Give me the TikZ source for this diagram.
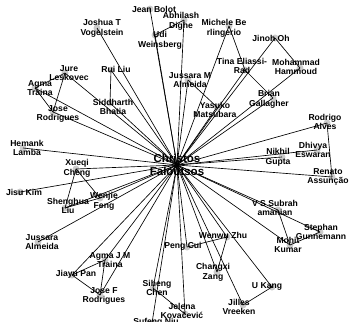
\documentclass[tikz,border=0pt]{standalone}
\usepackage{fontspec}
\setmainfont{Liberation Sans}
\begin{document}
\begin{tikzpicture}[x=1pt,y=-1pt,
  dotst/.style={circle,fill=black!20,inner sep=0pt,minimum size=7pt},
  lbl/.style={font=\fontsize{8.6}{9.6}\selectfont\bfseries,align=center,inner sep=0pt},
  biglbl/.style={font=\fontsize{11.5}{13.5}\selectfont\bfseries,align=center,inner sep=0pt},
  edgest/.style={line width=0.65pt,black}]
\useasboundingbox (0,0) rectangle (357,322);
% coordinates of the vertices
\foreach \n/\x/\y in {cf/177/165, jb/150/9, ad/184/20, uw/155/35, jv/97/28, ml/229/26,
  te/245/70, jo/275/38, mh/300/68, bg/273/98, ym/217/107, ja/188/80, rl/111/70,
  sb/110/103, jl/65/73, at/35/88, jr/53/112, hl/23/148, xc/76/169, jk/20/192,
  sl/65/208, wf/100/198, ra/327/123, de/317/150, ng/282/157, rn/332/177,
  vs/278/210, sg/320/232, mk/290/245, uk/272/287, jil/243/305, wz/227/237,
  pc/187/247, cz/217/272, sc/153/288, jel/185/314, sn/152/323, amt/105/260,
  jp/72/275, jfr/100/295, jam/38/242}
  {\coordinate (\n) at (\x,\y);}
% dots
\foreach \n in {cf,jb,ad,uw,jv,ml,te,jo,mh,bg,ym,ja,rl,sb,jl,at,jr,hl,xc,jk,sl,wf,
  ra,de,ng,rn,vs,sg,mk,uk,jil,wz,pc,cz,sc,jel,sn,amt,jp,jfr,jam}
  {\node[dotst] (dot-\n) at (\n) {};}
% labels
\node[biglbl] (l-cf) at (177,165) {Christos\\Faloutsos};
\node[lbl] (l-jb) at (154,9) {Jean Bolot};
\node[lbl] (l-ad) at (181,21) {Abhilash\\Dighe};
\node[lbl] (l-uw) at (160,40) {Udi\\Weinsberg};
\node[lbl] (l-jv) at (102,28) {Joshua T\\Vogelstein};
\node[lbl] (l-ml) at (224,28) {Michele Be\\rlingerio};
\node[lbl] (l-te) at (242,66) {Tina Eliassi-\\Rad};
\node[lbl] (l-jo) at (271,38) {Jinoh Oh};
\node[lbl] (l-mh) at (296,67) {Mohammad\\Hammoud};
\node[lbl] (l-bg) at (269,99) {Brian\\Gallagher};
\node[lbl] (l-ym) at (215,110) {Yasuko\\Matsubara};
\node[lbl] (l-ja) at (190,80) {Jussara M\\Almeida};
\node[lbl] (l-rl) at (116,69) {Rui Liu};
\node[lbl] (l-sb) at (113,107) {Siddharth\\Bhatia};
\node[lbl] (l-jl) at (69,73) {Jure\\Leskovec};
\node[lbl] (l-at) at (40,88) {Agma\\Traina};
\node[lbl] (l-jr) at (58,114) {Jose\\Rodrigues};
\node[lbl] (l-hl) at (27,148) {Hemank\\Lamba};
\node[lbl] (l-xc) at (77,168) {Xueqi\\Cheng};
\node[lbl] (l-jk) at (24,192) {Jisu Kim};
\node[lbl] (l-sl) at (68,206) {Shenghua\\Liu};
\node[lbl] (l-wf) at (104,201) {Wenjie\\Feng};
\node[lbl] (l-ra) at (325,122) {Rodrigo\\Alves};
\node[lbl] (l-de) at (313,150) {Dhivya\\Eswaran};
\node[lbl] (l-ng) at (278,157) {Nikhil\\Gupta};
\node[lbl] (l-rn) at (328,177) {Renato\\Assunção};
\node[lbl] (l-vs) at (275,208) {V S Subrah\\amanian};
\node[lbl] (l-sg) at (321,232) {Stephan\\Gunnemann};
\node[lbl] (l-mk) at (288,245) {Mohit\\Kumar};
\node[lbl] (l-uk) at (267,286) {U Kang};
\node[lbl] (l-jil) at (239,307) {Jilles\\Vreeken};
\node[lbl] (l-wz) at (223,235) {Wenwu Zhu};
\node[lbl] (l-pc) at (183,246) {Peng Cui};
\node[lbl] (l-cz) at (213,272) {Changxi\\Zang};
\node[lbl] (l-sc) at (157,288) {Siheng\\Chen};
\node[lbl] (l-jel) at (182,311) {Jelena\\Kovačević};
\node[lbl] (l-sn) at (156,322) {Sufeng Niu};
\node[lbl] (l-amt) at (110,260) {Agma J M\\Traina};
\node[lbl] (l-jp) at (76,274) {Jiayu Pan};
\node[lbl] (l-jfr) at (104,296) {Jose F\\Rodrigues};
\node[lbl] (l-jam) at (42,242) {Jussara\\Almeida};
% edges from the centre
\foreach \n in {jb,ad,uw,jv,ml,te,jo,mh,bg,ym,ja,rl,sb,jl,at,jr,hl,xc,jk,sl,wf,
  ra,de,ng,rn,vs,sg,mk,uk,jil,wz,pc,cz,sc,jel,sn,amt,jp,jfr,jam}
  {\draw[edgest] (cf) -- (\n);}
% other edges
\foreach \a/\b in {ad/uw, ml/te, te/bg, jo/mh, ja/ym, rl/sb, jl/at, jl/jr, at/jr,
  xc/sl, xc/wf, sl/wf, ra/rn, vs/mk, sg/mk, uk/jil, wz/pc, wz/cz, sc/jel,
  amt/jp, amt/jfr, jp/jfr}
  {\draw[edgest] (\a) -- (\b);}
\end{tikzpicture}
\end{document}
